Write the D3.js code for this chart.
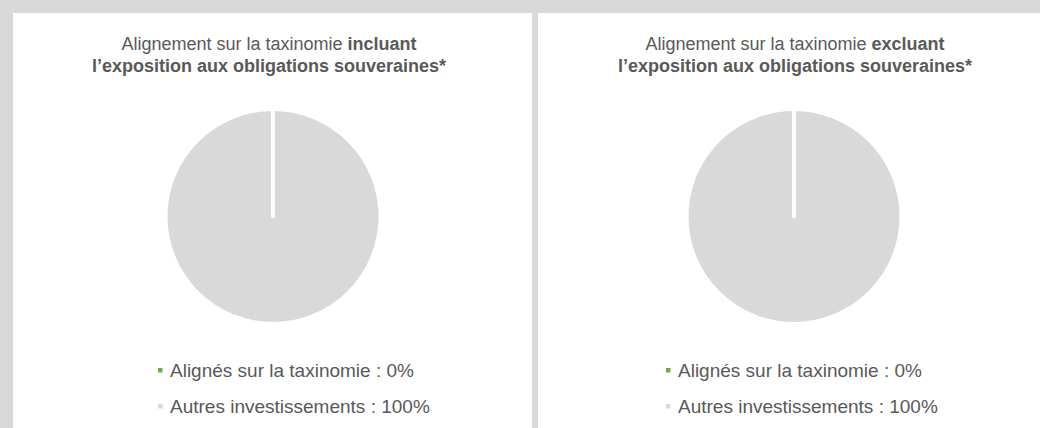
<!DOCTYPE html>
<html>
<head>
<meta charset="utf-8">
<script src="https://cdn.jsdelivr.net/npm/d3@7"></script>
<style>
  html, body { margin: 0; padding: 0; background: #d9d9d9; }
  svg { display: block; }
  text { font-family: "Liberation Sans", Arial, sans-serif; }
</style>
</head>
<body>
<div id="chart"></div>
<script>
// ---- data ----
const titleNormal = ["Alignement sur la taxinomie ", "Alignement sur la taxinomie "];
const titleBold = ["incluant", "excluant"];
const titleLine2 = ["l’exposition aux obligations souveraines*", "l’exposition aux obligations souveraines*"];
const categories = ["Alignés sur la taxinomie", "Autres investissements"];
const valuesIncluding = [0, 100];
const valuesExcluding = [0, 100];
const seriesColors = ["#70ad47", "#d9d9d9"];

// ---- layout ----
const W = 1040, H = 428;
const panels = [
  { x: 13, w: 519, cx: 273, titleX: 269, legendX: 158, values: valuesIncluding },
  { x: 538, w: 520, cx: 794, titleX: 795, legendX: 666, values: valuesExcluding }
];
const panelTop = 13;
const pieCy = 216.5;
const pieR = 107.5;

const svg = d3.select("#chart").append("svg").attr("width", W).attr("height", H);
svg.append("rect").attr("width", W).attr("height", H).attr("fill", "#d9d9d9");

const pie = d3.pie().sort(null).value(d => d);
const arc = d3.arc().innerRadius(0).outerRadius(pieR);
const color = d3.scaleOrdinal().domain(categories).range(seriesColors);

panels.forEach((p, i) => {
  const g = svg.append("g");
  g.append("rect").attr("x", p.x).attr("y", panelTop).attr("width", p.w).attr("height", H - panelTop + 10).attr("fill", "#ffffff");

  // title
  const t1 = g.append("text").attr("x", p.titleX).attr("y", 50).attr("text-anchor", "middle")
    .attr("font-size", 18).attr("fill", "#595959");
  t1.append("tspan").text(titleNormal[i]);
  t1.append("tspan").attr("font-weight", "bold").text(titleBold[i]);
  g.append("text").attr("x", p.titleX).attr("y", 71.5).attr("text-anchor", "middle")
    .attr("font-size", 18).attr("font-weight", "bold").attr("fill", "#595959").text(titleLine2[i]);

  // pie
  const arcs = pie(p.values).map((a, k) => Object.assign(a, { cat: categories[k] }));
  const pg = g.append("g").attr("transform", `translate(${p.cx},${pieCy})`);
  pg.selectAll("path").data(arcs.slice().reverse()).join("path")
    .attr("d", arc)
    .attr("fill", d => color(d.cat))
    .attr("stroke", "#ffffff")
    .attr("stroke-width", 4)
    .attr("stroke-linejoin", "round")
    .attr("stroke-linecap", "round");

  // legend
  const lg = g.append("g");
  categories.forEach((c, k) => {
    const base = 376.5 + k * 36;
    lg.append("rect").attr("x", p.legendX).attr("y", base - 8.5).attr("width", 4.5).attr("height", 4.5)
      .attr("fill", color(c));
    lg.append("text").attr("x", p.legendX + 12).attr("y", base)
      .attr("font-size", 19).attr("fill", "#595959")
      .text(`${c} : ${p.values[k]}%`);
  });
});
</script>
</body>
</html>
